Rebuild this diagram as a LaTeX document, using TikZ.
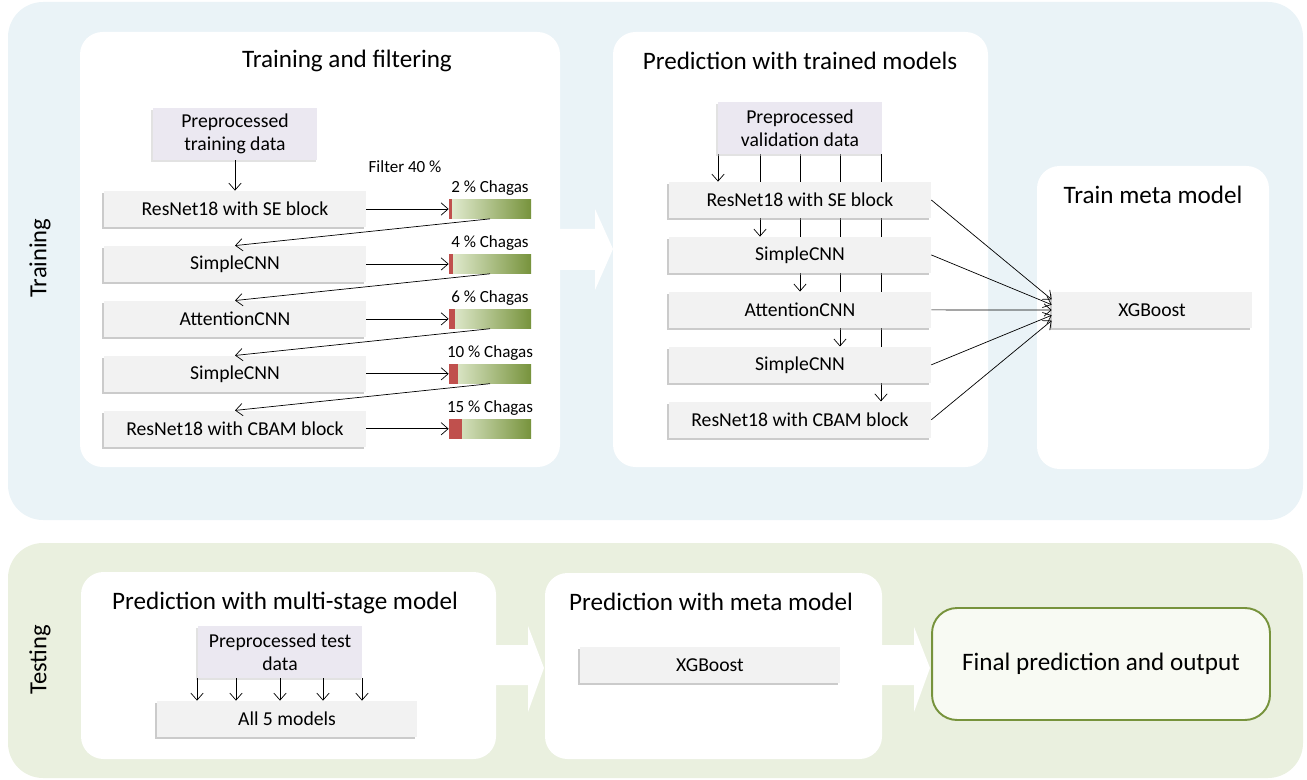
\documentclass[tikz,border=0pt]{standalone}
\usepackage{fontspec}
\setmainfont{Carlito}
\usetikzlibrary{positioning,shadows,arrows.meta}
\pgfdeclarelayer{back}
\pgfsetlayers{back,main}
\definecolor{trainbg}{HTML}{EAF3F7}
\definecolor{testbg}{HTML}{EAF0DF}
\definecolor{boxgray}{HTML}{F2F2F2}
\definecolor{prepfill}{HTML}{EBE8F1}
\definecolor{barlight}{HTML}{E4EDD3}
\definecolor{bardark}{HTML}{77933C}
\definecolor{chagasred}{HTML}{C0504D}
\definecolor{finalfill}{HTML}{F8FAF3}

\begin{document}
\begin{tikzpicture}[
		x=0.02cm, y=-0.02cm,
		node distance={0.365cm},
		>={Straight Barb[length=4pt,width=7pt]},
		title/.style = {font=\fontsize{14.3}{17}\selectfont},
		side/.style = {font=\fontsize{14}{17}\selectfont, rotate=90},
		model/.style = {fill=boxgray, minimum width=5.24cm, minimum height=0.72cm, inner sep=0pt,
			font=\fontsize{11.2}{13}\selectfont,
			drop shadow={shadow xshift=-0.9pt, shadow yshift=-1.1pt, fill=black!40}},
		prep/.style = {fill=prepfill, minimum width=3.3cm, minimum height=1.04cm, inner sep=0pt, align=center,
			font=\fontsize{11.2}{13}\selectfont,
			drop shadow={shadow xshift=-0.9pt, shadow yshift=-1.1pt, fill=black!22}},
		bar/.style = {left color=barlight, right color=bardark, minimum width=1.64cm, minimum height=0.38cm, inner sep=0pt},
		small/.style = {font=\fontsize{9.7}{11}\selectfont, inner sep=1pt},
		final/.style = {draw=bardark, line width=1.1pt, fill=finalfill, rounded corners=0.5cm,
			minimum width=6.76cm, minimum height=2.24cm, font=\fontsize{14.3}{17}\selectfont}
	]
	\useasboundingbox (0,0) rectangle (1307,780);

	% panels
	\begin{pgfonlayer}{back}
		\fill[trainbg, rounded corners=0.7cm] (8,2) rectangle (1303,520);
		\fill[testbg, rounded corners=0.7cm] (8,543) rectangle (1303,778);
		\fill[white, rounded corners=0.45cm] (80,32) rectangle (560,467);
		\fill[white, rounded corners=0.45cm] (613,32) rectangle (988,467);
		\fill[white, rounded corners=0.45cm] (1037,166) rectangle (1269,469);
		\fill[white, rounded corners=0.45cm] (81,572) rectangle (496,759);
		\fill[white, rounded corners=0.45cm] (545,573) rectangle (882,759);
		\fill[white] (560,229) -- (595,229) -- (595,209) -- (613,249) -- (595,290) -- (595,270) -- (560,270) -- cycle;
		\fill[white] (496,645) -- (528,645) -- (528,626) -- (544,668) -- (528,712) -- (528,685) -- (496,685) -- cycle;
		\fill[white] (882,645) -- (914,645) -- (914,627) -- (930,668) -- (914,712) -- (914,685) -- (882,685) -- cycle;
	\end{pgfonlayer}

	\node[side] (trlabel) at (40,258) {Training};
	\node[side] (telabel) at (40,660) {Testing};

	% training and filtering
	\node[title] (t1) at (347,61) {Training and filtering};
	\node[prep] (trdata) at (235,134) {Preprocessed\\training data};
	\node[model] (tm1) at (235,209) {ResNet18 with SE block};
	\node[model] (tm2) [below=of tm1] {SimpleCNN};
	\node[model] (tm3) [below=of tm2] {AttentionCNN};
	\node[model] (tm4) [below=of tm3] {SimpleCNN};
	\node[model] (tm5) [below=of tm4] {ResNet18 with CBAM block};
	\node[small] (filter) at (405,167) {Filter 40 \%};

	\node[bar] (b1) at (tm1 -| 490,0) {};
	\node[bar] (b2) at (tm2 -| 490,0) {};
	\node[bar] (b3) at (tm3 -| 490,0) {};
	\node[bar] (b4) at (tm4 -| 490,0) {};
	\node[bar] (b5) at (tm5 -| 490,0) {};
	\fill[chagasred] (b1.north west) rectangle ([xshift=0.06cm]b1.south west);
	\fill[chagasred] (b2.north west) rectangle ([xshift=0.08cm]b2.south west);
	\fill[chagasred] (b3.north west) rectangle ([xshift=0.12cm]b3.south west);
	\fill[chagasred] (b4.north west) rectangle ([xshift=0.18cm]b4.south west);
	\fill[chagasred] (b5.north west) rectangle ([xshift=0.26cm]b5.south west);
	\node[small] (c1) [above=1pt of b1] {2 \% Chagas};
	\node[small] (c2) [above=1pt of b2] {4 \% Chagas};
	\node[small] (c3) [above=1pt of b3] {6 \% Chagas};
	\node[small] (c4) [above=1pt of b4] {10 \% Chagas};
	\node[small] (c5) [above=1pt of b5] {15 \% Chagas};

	\draw[->] (trdata) -- (tm1);
	\draw[->] (tm1) -- (b1);
	\draw[->] (tm2) -- (b2);
	\draw[->] (tm3) -- (b3);
	\draw[->] (tm4) -- (b4);
	\draw[->] (tm5) -- (b5);
	\draw[->] (b1.south) -- (tm2.north);
	\draw[->] (b2.south) -- (tm3.north);
	\draw[->] (b3.south) -- (tm4.north);
	\draw[->] (b4.south) -- (tm5.north);

	% prediction with trained models
	\node[title] (t2) at (800,61) {Prediction with trained models};
	\node[prep] (vdata) at (800,128) {Preprocessed\\validation data};
	\node[model] (pm1) at (800,200) {ResNet18 with SE block};
	\node[model] (pm2) [below=of pm1] {SimpleCNN};
	\node[model] (pm3) [below=of pm2] {AttentionCNN};
	\node[model] (pm4) [below=of pm3] {SimpleCNN};
	\node[model] (pm5) [below=of pm4] {ResNet18 with CBAM block};

	\begin{pgfonlayer}{back}
		\draw[->] ([xshift=-1.64cm]vdata.south) -- ([xshift=-1.64cm]vdata.south |- pm1.north);
		\draw[->] ([xshift=-0.8cm]vdata.south) -- ([xshift=-0.8cm]vdata.south |- pm2.north);
		\draw[->] (vdata.south) -- (pm3.north);
		\draw[->] ([xshift=0.8cm]vdata.south) -- ([xshift=0.8cm]vdata.south |- pm4.north);
		\draw[->] ([xshift=1.62cm]vdata.south) -- ([xshift=1.62cm]vdata.south |- pm5.north);
	\end{pgfonlayer}

	% train meta model
	\node[title] (t3) at (1153,195) {Train meta model};
	\node[model, minimum width=4cm] (xgb1) at (1152,310) {XGBoost};
	\draw[->] (pm1.east) -- ([yshift=6pt]xgb1.west);
	\draw[->] (pm2.east) -- ([yshift=3pt]xgb1.west);
	\draw[->] (pm3.east) -- (xgb1.west);
	\draw[->] (pm4.east) -- ([yshift=-3pt]xgb1.west);
	\draw[->] (pm5.east) -- ([yshift=-6pt]xgb1.west);

	% testing
	\node[title] (t4) at (285,603) {Prediction with multi-stage model};
	\node[prep] (tdata) at (280,652) {Preprocessed test\\data};
	\node[model, minimum width=5.2cm] (all5) at (287,719) {All 5 models};
	\draw[->] ([xshift=-1.66cm]tdata.south) -- ([xshift=-1.66cm]tdata.south |- all5.north);
	\draw[->] ([xshift=-0.88cm]tdata.south) -- ([xshift=-0.88cm]tdata.south |- all5.north);
	\draw[->] (tdata.south) -- (tdata.south |- all5.north);
	\draw[->] ([xshift=0.86cm]tdata.south) -- ([xshift=0.86cm]tdata.south |- all5.north);
	\draw[->] ([xshift=1.64cm]tdata.south) -- ([xshift=1.64cm]tdata.south |- all5.north);

	\node[title] (t5) at (711,602) {Prediction with meta model};
	\node[model, minimum width=5.2cm] (xgb2) at (710,665) {XGBoost};
	\node[final] (out) at (1101,664) {Final prediction and output};
\end{tikzpicture}
\end{document}
